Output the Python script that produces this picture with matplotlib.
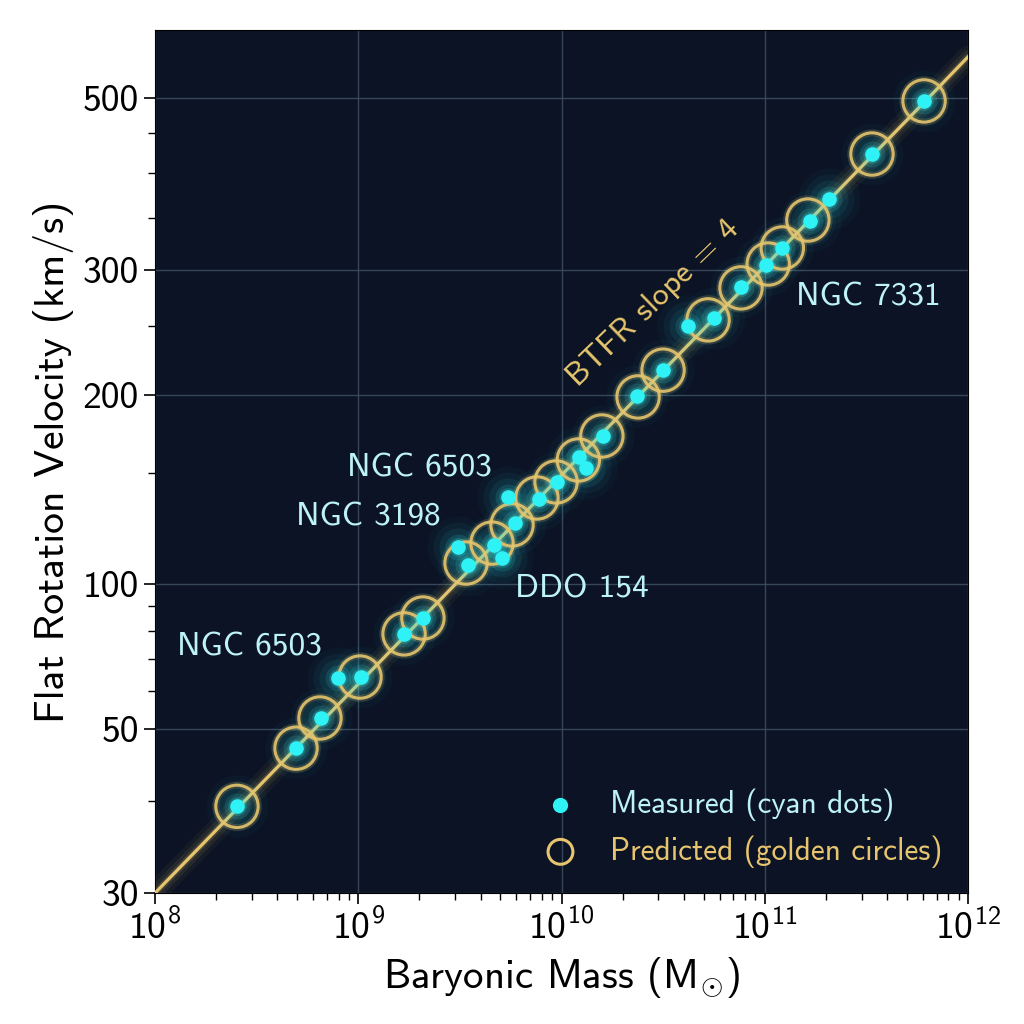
import numpy as np
import matplotlib
matplotlib.use("Agg")
import matplotlib.pyplot as plt

plt.rcParams['font.family'] = ['cmss10', 'DejaVu Sans']
plt.rcParams['mathtext.fontset'] = 'custom'
plt.rcParams['mathtext.rm'] = 'cmss10'
plt.rcParams['mathtext.it'] = 'cmss10'
plt.rcParams['axes.formatter.use_mathtext'] = True
plt.rcParams['axes.unicode_minus'] = False

# predicted (golden circles)
pred_mass = [2.53e8, 4.94e8, 6.48e8, 1.02e9, 1.68e9, 2.08e9, 3.39e9, 4.55e9, 5.71e9,
             7.57e9, 9.4e9, 1.21e10, 1.58e10, 2.38e10, 3.16e10, 5.26e10, 7.64e10,
             1.04e11, 1.22e11, 1.63e11, 3.37e11, 6.08e11]
pred_vel = [39.3, 47.1, 52.7, 64.1, 78.8, 85.0, 108.0, 116.2, 124.2, 137.1, 145.4,
            157.6, 172.1, 198.6, 216.8, 255.2, 283.1, 305.4, 320.3, 348.0, 423.4, 495.7]

# measured (cyan dots)
meas_mass = [2.53e8, 4.94e8, 6.56e8, 7.95e8, 1.03e9, 1.68e9, 2.08e9, 3.10e9, 3.47e9,
             4.66e9, 5.10e9, 5.46e9, 5.91e9, 7.75e9, 9.5e9, 1.22e10, 1.32e10, 1.60e10,
             2.35e10, 3.16e10, 4.19e10, 5.63e10, 7.64e10, 1.01e11, 1.22e11, 1.67e11,
             2.07e11, 3.37e11, 6.08e11]
meas_vel = [39.3, 47.1, 52.7, 63.9, 64.1, 78.8, 85.0, 114.5, 107.2, 115.4, 110.0, 137.6,
            125.1, 136.6, 145.4, 159.3, 153.0, 172.1, 199.3, 216.8, 250.2, 256.8, 284.1,
            304.5, 320.3, 347.0, 370.1, 423.4, 495.7]

# BTFR line
line_mass = [1e8, 6.09e8, 3.01e9, 2.42e10, 9.59e10, 6.38e11, 1e12]
line_vel = [30, 50, 100, 200, 300, 500, 565]

labels = ["NGC 6503", "NGC 3198", "DDO 154", "NGC 6503", "NGC 7331"]
label_mass = [1.99e9, 1.12e9, 1.26e10, 2.90e8, 3.22e11]
label_vel = [153.0, 127.8, 97.6, 74.0, 274.8]

y_ticks = [30, 50, 100, 200, 300, 500]
y_minor = [40, 60, 70, 80, 90, 150, 250, 350, 400, 450]
x_ticks = [1e8, 1e9, 1e10, 1e11, 1e12]

# the velocity axis of the original is not evenly logarithmic: spacing per tick
tick_pos = [0, 164, 309, 498, 623, 795]
log_knots = np.r_[0.0, np.log10(y_ticks), 4.0]
pos_knots = np.r_[-1091.0, tick_pos, 1803.0]


def fwd(v):
    return np.interp(np.log10(np.maximum(v, 1e-3)), log_knots, pos_knots)


def inv(p):
    return 10 ** np.interp(p, pos_knots, log_knots)


bg = '#0b1324'
gold = '#e6c56e'
cyan = '#2ef2f5'
txt_cyan = '#bdf3f7'

fig = plt.figure(figsize=(10.24, 10.24), dpi=100)
ax = fig.add_axes([0.1514, 0.1279, 0.7939, 0.8428])
ax.set_facecolor(bg)
ax.set_xscale('log')
ax.set_yscale('function', functions=(fwd, inv))
ax.set_xlim(1e8, 1e12)
ax.set_ylim(30, 612)

ax.grid(True, which='major', color='#3d4d5f', lw=1.0, alpha=0.9)
ax.set_axisbelow(True)

# line with glow
for lw, a in [(16, 0.05), (10, 0.08), (5, 0.16)]:
    ax.plot(line_mass, line_vel, color=gold, lw=lw, alpha=a, solid_capstyle='round', zorder=2)
ax.plot(line_mass, line_vel, color=gold, lw=2.3, zorder=3)

# cyan glow
for s, a in [(2000, 0.03), (1300, 0.045), (750, 0.07), (350, 0.13), (180, 0.2)]:
    ax.scatter(meas_mass, meas_vel, s=s, color=cyan, alpha=a, lw=0, zorder=4)

# golden circles
ax.scatter(pred_mass, pred_vel, s=930, facecolors='none', edgecolors=gold, lw=5,
           alpha=0.18, zorder=5)
ax.scatter(pred_mass, pred_vel, s=930, facecolors='none', edgecolors=gold, lw=2.2,
           alpha=0.9, zorder=6)

ax.scatter(meas_mass, meas_vel, s=110, color=cyan, lw=0, zorder=7)

for name, m, v in zip(labels, label_mass, label_vel):
    ax.text(m, v, name, color=txt_cyan, fontsize=24, ha='center', va='center', zorder=8)

ax.text(2.82e10, 269.5, 'BTFR slope = 4', color=gold, fontsize=23.5, rotation=44,
        ha='center', va='center', zorder=8)

ax.set_yticks(y_ticks)
ax.set_yticklabels([str(v) for v in y_ticks])
ax.set_yticks(y_minor, minor=True)
ax.set_xticks(x_ticks)
ax.set_xticklabels([r'$10^{%d}$' % int(np.log10(v)) for v in x_ticks])
ax.tick_params(which='major', labelsize=27, length=8, width=1.2, color='black')
ax.tick_params(which='minor', length=5, width=1.0, color='black')
ax.yaxis.set_minor_formatter(matplotlib.ticker.NullFormatter())
for sp in ax.spines.values():
    sp.set_color('black')

ax.set_xlabel(r'Baryonic Mass (M$_{\odot}$)', fontsize=29.5, labelpad=6)
ax.set_ylabel('Flat Rotation Velocity (km/s)', fontsize=30, labelpad=6)

h1 = ax.scatter([], [], s=120, color=cyan, lw=0)
h2 = ax.scatter([], [], s=320, facecolors='none', edgecolors=gold, lw=2.2)
leg = ax.legend([h1, h2], ['Measured (cyan dots)', 'Predicted (golden circles)'],
                loc='lower right', frameon=False, fontsize=22.5, handletextpad=0.6,
                borderaxespad=0.4, labelspacing=0.45)
leg.get_texts()[0].set_color(txt_cyan)
leg.get_texts()[1].set_color(gold)

fig.savefig('out.png', dpi=100, facecolor='white')
